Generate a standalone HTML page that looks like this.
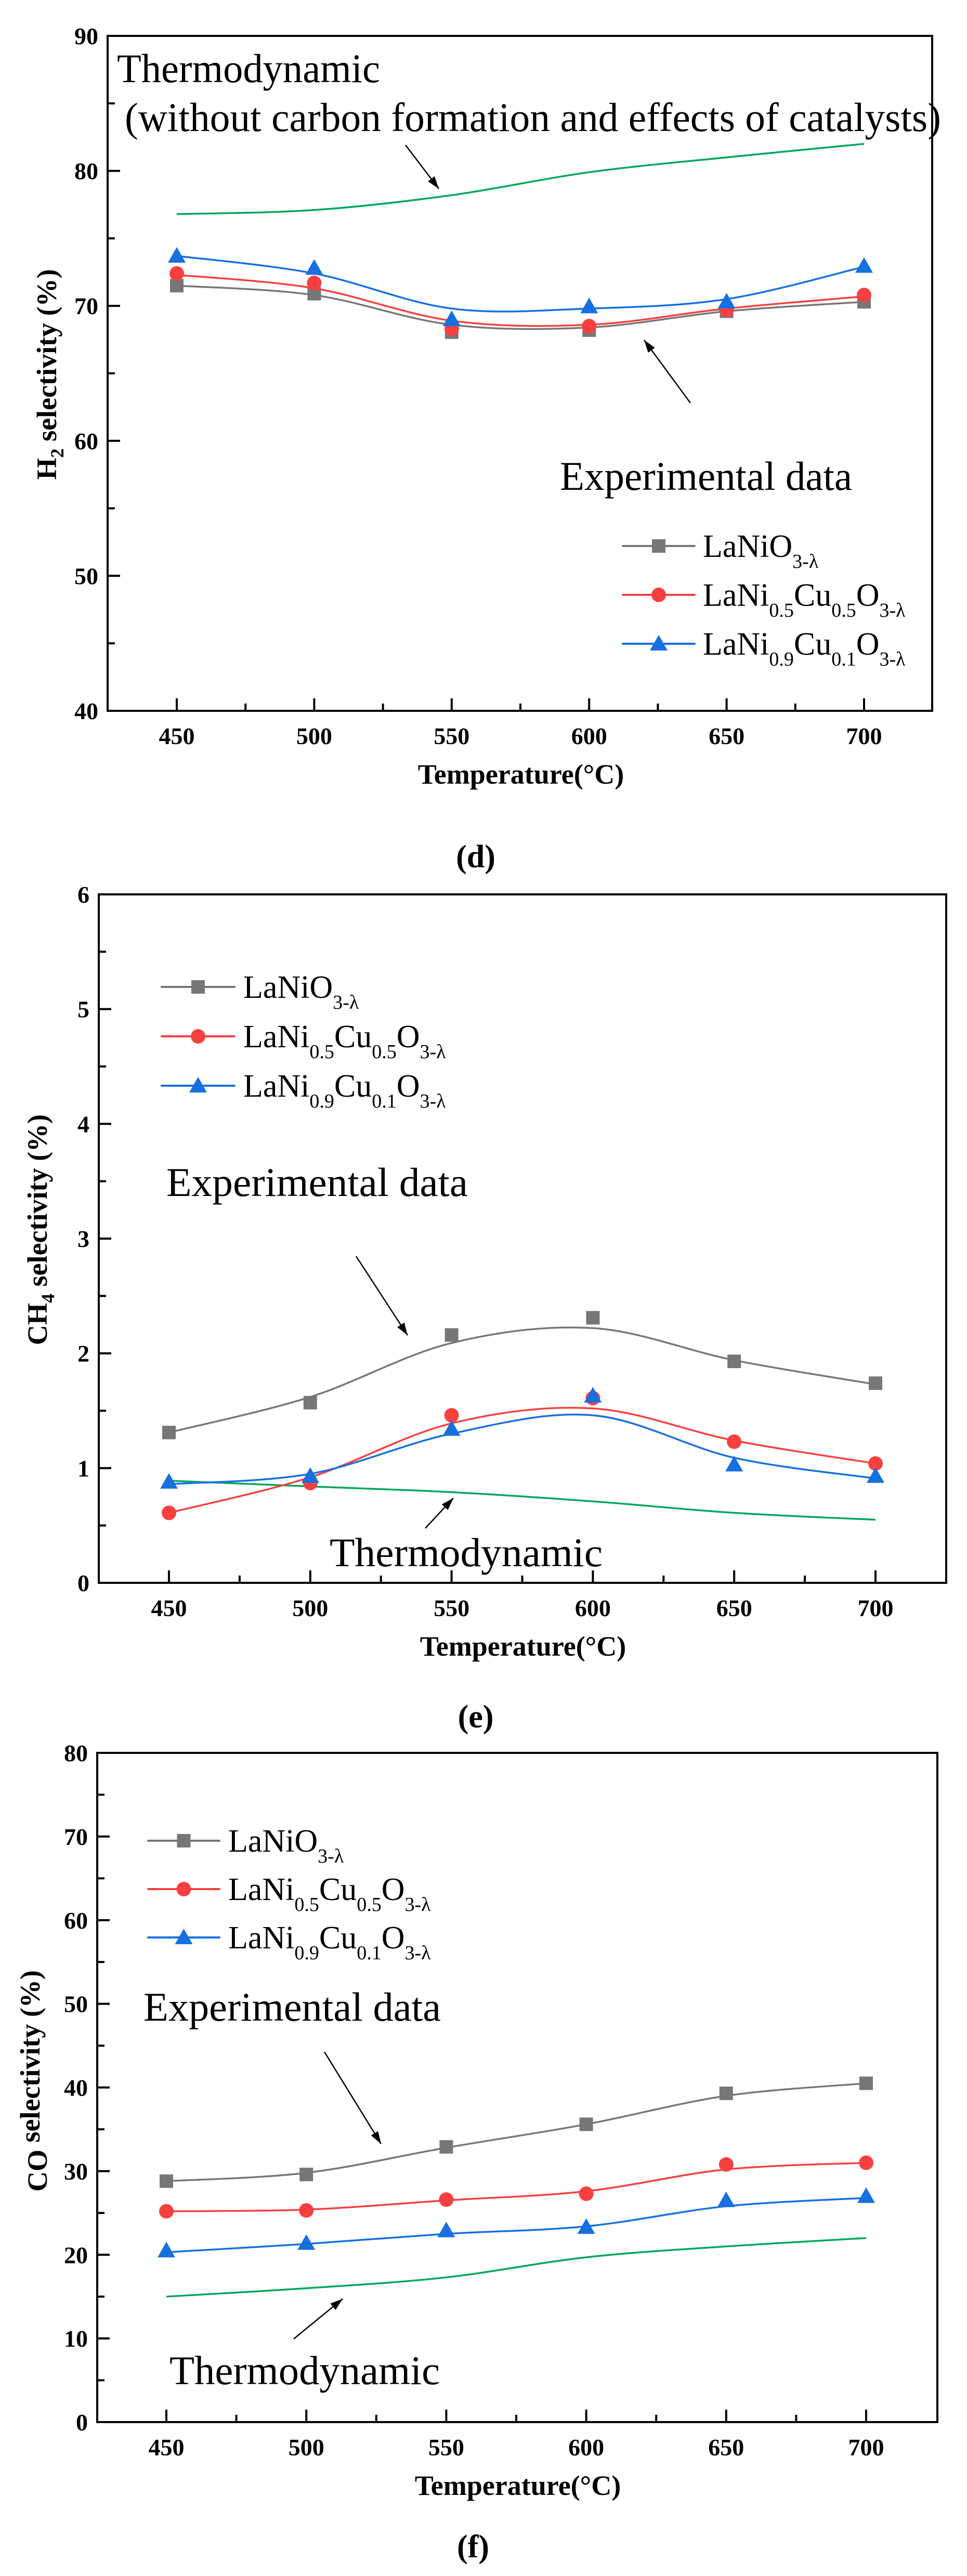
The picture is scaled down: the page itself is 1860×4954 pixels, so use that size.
<!DOCTYPE html>
<html><head><meta charset="utf-8">
<style>
html,body{margin:0;padding:0;background:#fff;}
svg{display:block;}
svg text, svg tspan{font-family:"Liberation Serif","DejaVu Serif",serif;}
</style></head>
<body>
<svg id="fig" width="1860" height="4954" viewBox="0 0 1860 4954" xmlns="http://www.w3.org/2000/svg" font-family="Liberation Serif, DejaVu Serif, serif"></svg>
<script>
// ---------- shared data ----------
const temps = [450, 500, 550, 600, 650, 700];
const xTicks = [450, 500, 550, 600, 650, 700];

// chart d: H2 selectivity
const dGray = [71.5, 70.9, 68.05, 68.2, 69.6, 70.3];
const dRed = [72.4, 71.7, 68.3, 68.5, 69.7, 70.8];
const dBlue = [73.7, 72.8, 69.0, 69.95, 70.3, 72.95];
const dGrayFit = [71.5, 70.8, 68.6, 68.4, 69.6, 70.3];
const dRedFit = [72.3, 71.3, 68.9, 68.6, 69.8, 70.7];
const dBlueFit = [73.7, 72.4, 69.8, 69.8, 70.5, 72.9];
const dThermo = [76.8, 77.1, 78.2, 79.9, 81.0, 82.0];
const dYTicks = [40, 50, 60, 70, 80, 90];

// chart e: CH4 selectivity
const eGray = [1.31, 1.57, 2.16, 2.31, 1.93, 1.74];
const eRed = [0.61, 0.87, 1.46, 1.61, 1.23, 1.04];
const eBlue = [0.88, 0.93, 1.34, 1.63, 1.03, 0.93];
const eGrayFit = [1.31, 1.62, 2.09, 2.22, 1.94, 1.73];
const eRedFit = [0.61, 0.92, 1.39, 1.52, 1.24, 1.04];
const eBlueFit = [0.86, 0.95, 1.30, 1.46, 1.09, 0.91];
const eThermo = [0.89, 0.84, 0.79, 0.71, 0.61, 0.55];
const eYTicks = [0, 1, 2, 3, 4, 5, 6];

// chart f: CO selectivity
const fGray = [28.8, 29.6, 32.9, 35.6, 39.3, 40.5];
const fRed = [25.2, 25.3, 26.6, 27.3, 30.8, 31.0];
const fBlue = [20.5, 21.4, 22.9, 23.3, 26.5, 27.0];
const fGrayFit = [28.8, 29.8, 32.8, 35.6, 39.0, 40.5];
const fRedFit = [25.2, 25.4, 26.5, 27.6, 30.2, 31.0];
const fBlueFit = [20.3, 21.3, 22.5, 23.4, 25.8, 26.8];
const fThermo = [15.0, 16.0, 17.3, 19.7, 21.0, 22.0];
const fYTicks = [0, 10, 20, 30, 40, 50, 60, 70, 80];

const NS = "http://www.w3.org/2000/svg";
const svg = document.getElementById('fig');
const FONT = '"Liberation Serif", "DejaVu Serif", serif';
const COLORS = {gray:'#777777', red:'#f84040', blue:'#1670e0', green:'#00a85a'};

function mk(tag, attrs, parent){
  const e = document.createElementNS(NS, tag);
  for (const k in attrs) e.setAttribute(k, attrs[k]);
  if (tag === 'text') e.style.fontFamily = FONT;
  (parent||svg).appendChild(e);
  return e;
}
function smoothPath(pts){
  let d = 'M' + pts[0][0] + ',' + pts[0][1];
  for (let i = 0; i < pts.length - 1; i++){
    const p0 = pts[i-1] || pts[i], p1 = pts[i], p2 = pts[i+1], p3 = pts[i+2] || pts[i+1];
    const c1 = [p1[0] + (p2[0]-p0[0])/6, p1[1] + (p2[1]-p0[1])/6];
    const c2 = [p2[0] - (p3[0]-p1[0])/6, p2[1] - (p3[1]-p1[1])/6];
    d += ' C' + c1[0] + ',' + c1[1] + ' ' + c2[0] + ',' + c2[1] + ' ' + p2[0] + ',' + p2[1];
  }
  return d;
}
function marker(g, kind, x, y, color){
  let m;
  if (kind === 'square') m = mk('rect', {x:x-13, y:y-13, width:26, height:26, fill:color}, g);
  else if (kind === 'circle') m = mk('circle', {cx:x, cy:y, r:14, fill:color}, g);
  else m = mk('polygon', {points:(x)+','+(y-17)+' '+(x+17)+','+(y+13)+' '+(x-17)+','+(y+13), fill:color}, g);
  
  
  return m;
}
function formula(parent, x, y, parts, name){
  const t = mk('text', {x:x, y:y, 'font-size':62, fill:'#000'}, parent);
  
  
  parts.forEach(p => {
    const s = mk('tspan', {}, t);
    s.textContent = p[0];
    if (p[1]) { s.setAttribute('font-size', 38); s.setAttribute('dy', 21); }
    else if (s.previousSibling) { s.setAttribute('dy', -21); }
  });
  return t;
}
function arrow(g, x1, y1, x2, y2, name){
  const a = mk('g', {}, g);
  
  
  mk('line', {x1:x1, y1:y1, x2:x2, y2:y2, stroke:'#000', 'stroke-width':2.5}, a);
  const ang = Math.atan2(y2-y1, x2-x1), L = 24, W = 8;
  const bx = x2 - L*Math.cos(ang), by = y2 - L*Math.sin(ang);
  const px = -Math.sin(ang)*W, py = Math.cos(ang)*W;
  mk('polygon', {points: x2+','+y2+' '+(bx+px)+','+(by+py)+' '+(bx-px)+','+(by-py), fill:'#000'}, a);
}
function plainText(g, x, y, str, size, name, extra){
  const t = mk('text', Object.assign({x:x, y:y, 'font-size':size, fill:'#000'}, extra||{}), g);
  t.textContent = str;
  
  
  return t;
}

function chart(cfg){
  const g = mk('g', {});
  
  
  const X = v => cfg.x450 + (v - 450) * (cfg.x700 - cfg.x450) / 250;
  const Y = v => cfg.bottom - (v - cfg.ymin) * (cfg.bottom - cfg.top) / (cfg.ymax - cfg.ymin);
  const fr = mk('rect', {x:cfg.left, y:cfg.top, width:cfg.right-cfg.left, height:cfg.bottom-cfg.top, fill:'none', stroke:'#000', 'stroke-width':4}, g);
  
  
  const yStep = cfg.yTicks[1] - cfg.yTicks[0];
  cfg.yTicks.forEach((v, i) => {
    mk('line', {x1:cfg.left, x2:cfg.left+24, y1:Y(v), y2:Y(v), stroke:'#000', 'stroke-width':4}, g);
    if (i < cfg.yTicks.length-1) mk('line', {x1:cfg.left, x2:cfg.left+14, y1:Y(v+yStep/2), y2:Y(v+yStep/2), stroke:'#000', 'stroke-width':4}, g);
    plainText(g, cfg.left-18, Y(v)+16, String(v), 46, 'y-tick-label', {'text-anchor':'end', 'font-weight':'bold'});
  });
  xTicks.forEach((v, i) => {
    mk('line', {x1:X(v), x2:X(v), y1:cfg.bottom, y2:cfg.bottom-24, stroke:'#000', 'stroke-width':4}, g);
    if (i < xTicks.length-1) mk('line', {x1:X(v+25), x2:X(v+25), y1:cfg.bottom, y2:cfg.bottom-14, stroke:'#000', 'stroke-width':4}, g);
    plainText(g, X(v), cfg.bottom+64, String(v), 46, 'x-tick-label', {'text-anchor':'middle', 'font-weight':'bold'});
  });
  plainText(g, cfg.xTitleX, cfg.bottom+140, 'Temperature(\u00b0C)', 54, 'x-axis-title', {'text-anchor':'middle', 'font-weight':'bold'});
  const yt = mk('text', {x:0, y:0, 'font-size':54, 'font-weight':'bold', 'text-anchor':'middle', transform:'translate('+cfg.yTitleX+','+cfg.yTitleY+') rotate(-90)'}, g);
  
  
  const s1 = mk('tspan', {}, yt); s1.textContent = cfg.yTitle[0];
  const s2 = mk('tspan', {'font-size':36, dy:14}, yt); s2.textContent = cfg.yTitle[1];
  const s3 = mk('tspan', {dy:-14}, yt); s3.textContent = ' selectivity (%)';
  const th = mk('path', {d:smoothPath(temps.map((t,i)=>[X(t), Y(cfg.thermo[i])])), fill:'none', stroke:COLORS.green, 'stroke-width':3.5}, g);
  
  
  const series = [
    ['lanio3', cfg.gray, cfg.grayFit, COLORS.gray, 'square'],
    ['lani05cu05o3', cfg.red, cfg.redFit, COLORS.red, 'circle'],
    ['lani09cu01o3', cfg.blue, cfg.blueFit, COLORS.blue, 'triangle']
  ];
  series.forEach(s => {
    const sg = mk('g', {}, g);
    
    
    const p = mk('path', {d:smoothPath(temps.map((t,i)=>[X(t), Y(s[2][i])])), fill:'none', stroke:s[3], 'stroke-width':3.5}, sg);
    
    
    temps.forEach((t,i) => marker(sg, s[4], X(t), Y(s[1][i]), s[3]));
  });
  const lg = mk('g', {}, g);
  
  
  const L = cfg.legend;
  const labels = [
    [['LaNiO',0],['3-\u03bb',1]],
    [['LaNi',0],['0.5',1],['Cu',0],['0.5',1],['O',0],['3-\u03bb',1]],
    [['LaNi',0],['0.9',1],['Cu',0],['0.1',1],['O',0],['3-\u03bb',1]]
  ];
  series.forEach((s, i) => {
    const eg = mk('g', {}, lg);
    
    
    const y = L.y0 + i*L.dy;
    mk('line', {x1:L.x1, x2:L.x2, y1:y, y2:y, stroke:s[3], 'stroke-width':4, 'stroke-linecap':'round'}, eg);
    marker(eg, s[4], (L.x1+L.x2)/2, y, s[3]);
    formula(eg, L.tx, y+21, labels[i], 'legend-label');
  });
  cfg.annotate(g);
  plainText(g, cfg.captionX, cfg.captionY, cfg.caption, 62, 'panel-caption', {'text-anchor':'middle', 'font-weight':'bold'});
}

chart({
  name:'chart-d-h2-selectivity', left:207, right:1793, top:69, bottom:1367, x450:340, x700:1662,
  ymin:40, ymax:90, yTicks:dYTicks, gray:dGray, red:dRed, blue:dBlue,
  grayFit:dGrayFit, redFit:dRedFit, blueFit:dBlueFit, thermo:dThermo,
  yTitle:['H','2'], yTitleX:108, yTitleY:720, xTitleX:1002,
  legend:{x1:1198, x2:1336, y0:1050, dy:94, tx:1352},
  caption:'(d)', captionX:915, captionY:1668,
  annotate: g => {
    plainText(g, 225, 158, 'Thermodynamic', 78, 'thermodynamic-label', {textLength:506, lengthAdjust:'spacingAndGlyphs'});
    plainText(g, 240, 252, '(without carbon formation and effects of catalysts)', 78, 'thermodynamic-note', {textLength:1570, lengthAdjust:'spacingAndGlyphs'});
    arrow(g, 780, 279, 844, 363, 'thermodynamic-arrow');
    arrow(g, 1328, 775, 1239, 654, 'experimental-arrow');
    plainText(g, 1077, 942, 'Experimental data', 78, 'experimental-label', {textLength:562, lengthAdjust:'spacingAndGlyphs'});
  }
});
chart({
  name:'chart-e-ch4-selectivity', left:190, right:1820, top:1720, bottom:3044, x450:325, x700:1684,
  ymin:0, ymax:6, yTicks:eYTicks, gray:eGray, red:eRed, blue:eBlue,
  grayFit:eGrayFit, redFit:eRedFit, blueFit:eBlueFit, thermo:eThermo,
  yTitle:['CH','4'], yTitleX:90, yTitleY:2365, xTitleX:1006,
  legend:{x1:311, x2:451, y0:1898, dy:95, tx:468},
  caption:'(e)', captionX:915, captionY:3322,
  annotate: g => {
    plainText(g, 320, 2300, 'Experimental data', 78, 'experimental-label', {textLength:580, lengthAdjust:'spacingAndGlyphs'});
    arrow(g, 685, 2416, 784, 2568, 'experimental-arrow');
    arrow(g, 818, 2939, 872, 2881, 'thermodynamic-arrow');
    plainText(g, 634, 3012, 'Thermodynamic', 78, 'thermodynamic-label', {textLength:525, lengthAdjust:'spacingAndGlyphs'});
  }
});
chart({
  name:'chart-f-co-selectivity', left:187, right:1803, top:3371, bottom:4658, x450:320, x700:1666,
  ymin:0, ymax:80, yTicks:fYTicks, gray:fGray, red:fRed, blue:fBlue,
  grayFit:fGrayFit, redFit:fRedFit, blueFit:fBlueFit, thermo:fThermo,
  yTitle:['CO',''], yTitleX:90, yTitleY:4002, xTitleX:996,
  legend:{x1:285, x2:422, y0:3540, dy:93, tx:439},
  caption:'(f)', captionX:910, captionY:4918,
  annotate: g => {
    plainText(g, 276, 3886, 'Experimental data', 78, 'experimental-label', {textLength:572, lengthAdjust:'spacingAndGlyphs'});
    arrow(g, 624, 3946, 733, 4123, 'experimental-arrow');
    arrow(g, 565, 4498, 659, 4421, 'thermodynamic-arrow');
    plainText(g, 326, 4585, 'Thermodynamic', 78, 'thermodynamic-label', {textLength:520, lengthAdjust:'spacingAndGlyphs'});
  }
});
</script>
</body></html>
